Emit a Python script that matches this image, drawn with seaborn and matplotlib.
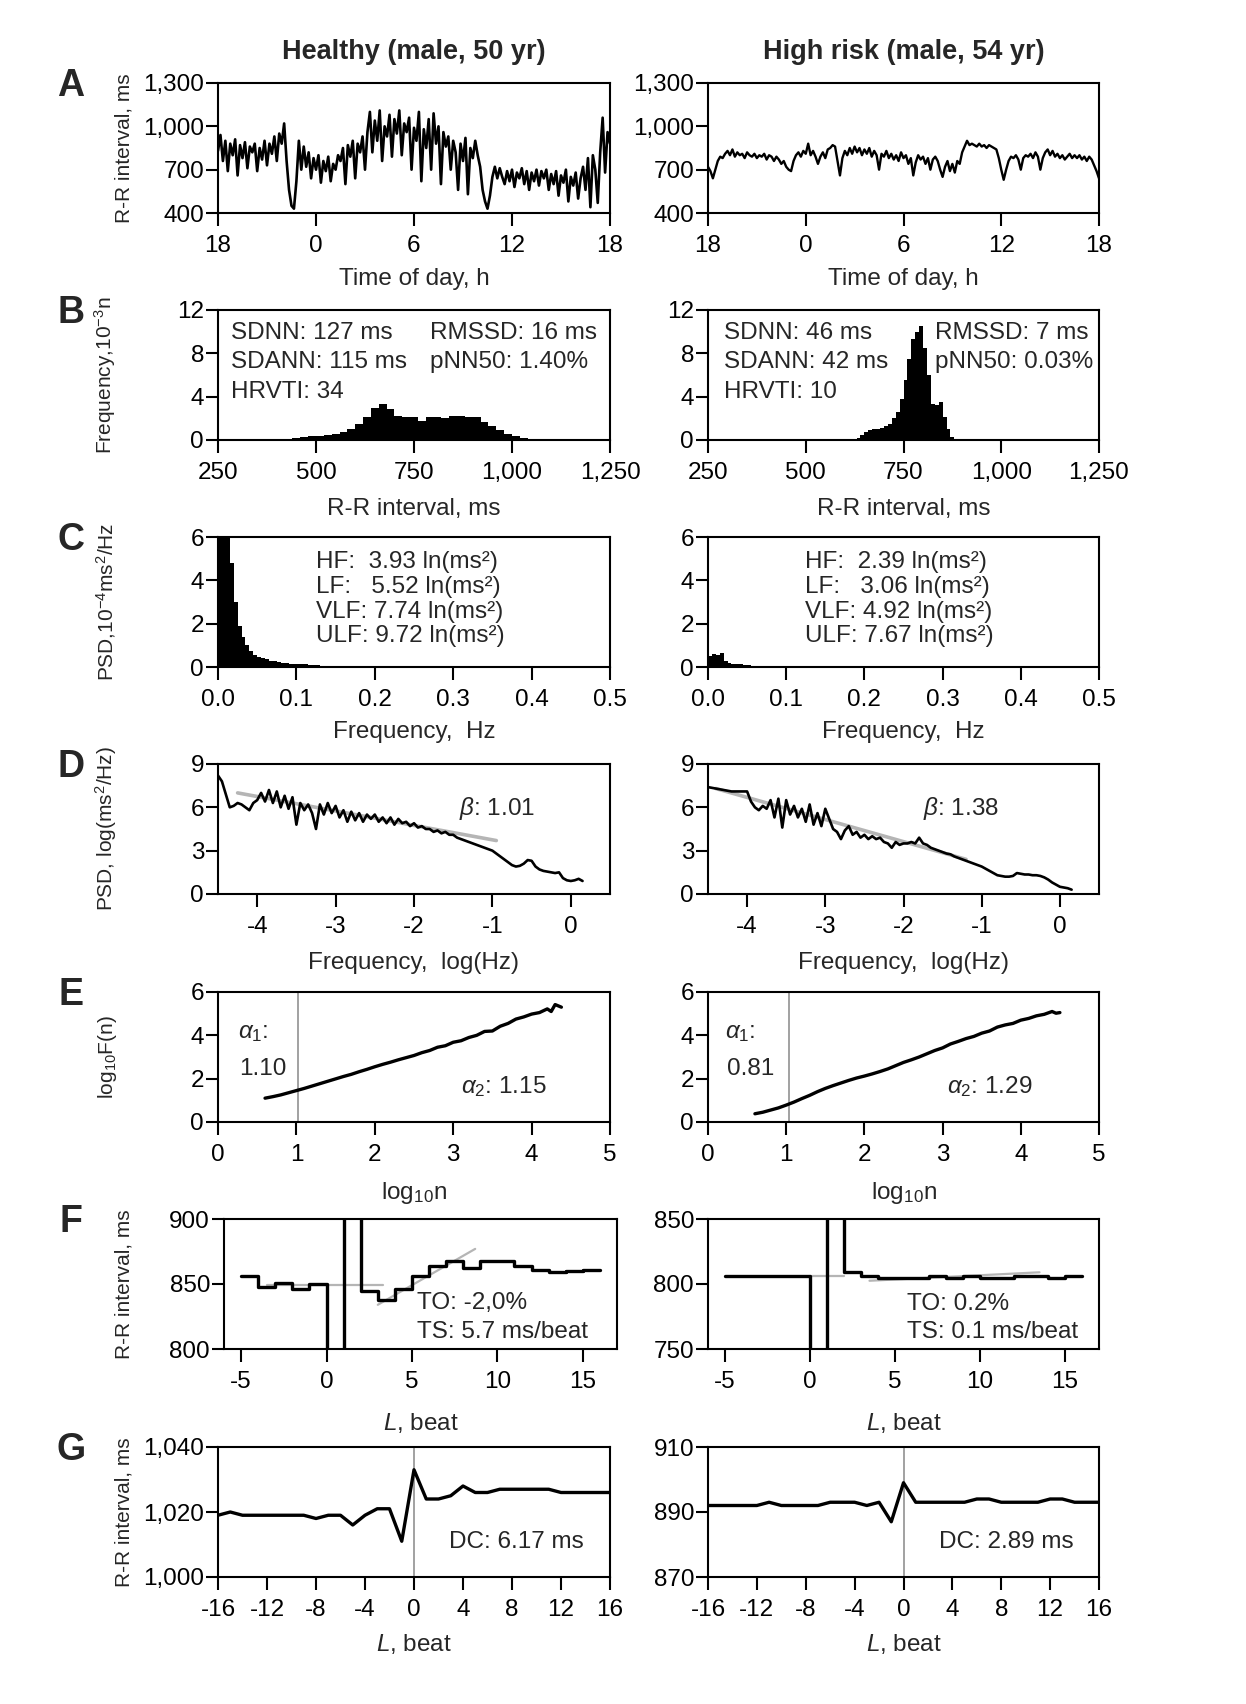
import numpy as np
import pandas as pd
import matplotlib
matplotlib.use("Agg")
import matplotlib.pyplot as plt
import seaborn as sns
from matplotlib.ticker import FuncFormatter

# ======================= DATA =======================
titles = ["Healthy (male, 50 yr)", "High risk (male, 54 yr)"]
row_letters = ["A", "B", "C", "D", "E", "F", "G"]

# A: 24-h R-R interval tachogram (ms), sampled every 0.15 h from 18:00
time_ticks = [0, 6, 12, 18, 24]
time_labels = ["18", "0", "6", "12", "18"]
rr_healthy = [830, 940, 760, 900, 690, 880, 800, 910, 660, 870, 780, 890, 710, 860, 820, 880, 690, 850, 770, 900,
              730, 880, 810, 930, 760, 950,
              880, 1020, 760, 560, 450, 430, 620, 900, 700, 860,
              720, 820, 640, 780, 700, 800, 610, 760, 690, 790, 620, 740, 700, 800,
              760, 850, 600, 870, 790, 900, 640, 880, 820, 930, 700,
              960, 1100, 820, 1040, 900, 1110, 760, 1000, 930, 1080, 790, 1050, 950, 1110, 800, 1020, 960,
              1060, 700, 990, 900, 1100, 620, 980, 850, 1050, 700, 1090, 880, 1000, 600, 960, 860,
              930, 700, 900, 820, 560, 880, 760, 920, 530, 850, 780, 900, 800,
              720, 560, 480, 430,
              520, 650, 720, 640, 710,
              650, 600, 690, 620, 700, 580, 680, 640, 710, 600, 690, 560, 680, 620, 700, 590, 690, 640, 700, 560,
              670, 600, 690, 520, 660, 610, 700, 480, 650, 590, 680, 500, 640,
              720, 560, 780, 440, 800, 700, 470,
              820, 1060, 680, 960, 880]
rr_risk = [720, 690, 640, 700, 760, 790, 780,
           810, 830, 800, 840, 790, 820, 800, 810, 780, 820, 800, 790, 810, 780, 800, 790, 810, 770, 800, 790,
           760, 790, 770, 740, 760, 720,
           700, 690, 760,
           800, 820, 790, 830, 810, 880, 800, 830, 790,
           740, 790, 820, 780, 840, 850,
           870, 860, 760, 660,
           780, 830, 800, 850, 810, 860, 820, 850, 800, 840, 810, 850, 790, 830, 800, 700,
           810, 790, 830, 780, 810, 770, 800, 760, 820, 780, 800, 740, 780, 660,
           750, 800, 770, 790, 740, 780, 700, 770, 790, 760, 700, 650,
           720, 760, 690, 740, 680, 760, 740,
           820, 860, 900, 870, 880,
           870, 860, 880, 860, 870, 850, 870, 860, 850, 840,
           780, 700, 630,
           700, 760, 790, 780, 800, 770, 700, 780, 800, 790, 810, 780, 820, 790,
           700, 780, 820, 840, 800, 830, 790, 810, 780, 800, 770, 790, 810, 780, 800,
           780, 800, 770, 790, 760, 790, 770, 730, 690, 640]

# B: R-R histograms (10^-3 n)
hist_h_centers = list(range(450, 1051, 20))
hist_h_counts = [0.2, 0.3, 0.35, 0.4, 0.5, 0.55, 0.7, 1.0, 1.5, 2.1, 3.0, 3.3, 2.9, 2.2, 2.1, 2.1, 1.8, 2.1, 2.1, 2.0,
                 2.2, 2.2, 2.1, 2.1, 1.7, 1.3, 0.9, 0.55, 0.35, 0.2, 0.08]
hist_r_centers = list(range(635, 886, 10))
hist_r_counts = [0.2, 0.5, 0.7, 0.9, 1.0, 1.0, 1.1, 1.3, 1.5, 2.0, 2.6, 3.8, 5.5, 7.5, 9.3, 10.0, 10.5, 8.5, 6.0,
                 3.3, 3.2, 3.5, 2.1, 1.0, 0.3, 0.05]
stats_h = [["SDNN: 127 ms", "SDANN: 115 ms", "HRVTI: 34"], ["RMSSD: 16 ms", "pNN50: 1.40%"]]
stats_r = [["SDNN: 46 ms", "SDANN: 42 ms", "HRVTI: 10"], ["RMSSD: 7 ms", "pNN50: 0.03%"]]

# C: power spectral density (10^-4 ms^2/Hz), 0.005 Hz bins
psd_bin = 0.005
psd_h = [9, 9, 6.5, 4.8, 3.0, 1.9, 1.4, 1.0, 0.75, 0.55, 0.45, 0.4, 0.35, 0.3, 0.27, 0.24, 0.2, 0.18, 0.16, 0.15,
         0.14, 0.13, 0.12, 0.11, 0.1, 0.08]
psd_r = [0.5, 0.6, 0.55, 0.65, 0.3, 0.2, 0.15, 0.14, 0.12, 0.1, 0.08]
bands_h = ["HF:  3.93 ln(ms²)", "LF:   5.52 ln(ms²)", "VLF: 7.74 ln(ms²)", "ULF: 9.72 ln(ms²)"]
bands_r = ["HF:  2.39 ln(ms²)", "LF:   3.06 ln(ms²)", "VLF: 4.92 ln(ms²)", "ULF: 7.67 ln(ms²)"]

# D: log-log PSD, log(Hz) from -4.5 every 0.05
logf_start, logf_step = -4.5, 0.05
lpsd_h = [8.2, 7.8, 6.9, 6.0, 6.1, 6.3, 6.2, 6.0, 5.8, 6.3, 6.5, 7.0, 6.4, 7.2, 6.3, 7.1, 6.0, 6.8, 5.9, 6.7,
          4.8, 6.3, 5.8, 6.2, 5.6, 4.5, 6.2, 5.5, 6.3, 5.6, 6.1, 5.3, 5.8, 5.0, 5.7, 5.1, 5.6, 5.0, 5.5, 5.2,
          5.5, 5.0, 5.3, 4.9, 5.3, 4.8, 5.2, 4.9, 5.0, 4.7, 4.9, 4.6, 4.7, 4.5, 4.5, 4.3, 4.4, 4.2, 4.3, 4.1,
          4.1, 3.9, 3.8, 3.7, 3.6, 3.5, 3.4, 3.3, 3.2, 3.1, 3.0, 2.8, 2.6, 2.4, 2.2, 2.0, 1.9, 1.95, 2.1, 2.35,
          2.3, 1.9, 1.7, 1.6, 1.55, 1.5, 1.45, 1.5, 1.1, 0.95, 0.9, 0.95, 1.05, 0.9]
lpsd_r = [7.4, 7.35, 7.3, 7.25, 7.2, 7.15, 7.1, 7.1, 7.1, 7.1, 7.1, 6.4, 6.0, 5.8, 6.1, 5.9, 6.5, 5.3, 6.6, 4.6,
          6.5, 5.5, 6.1, 5.3, 5.9, 5.0, 6.2, 4.8, 5.6, 4.7, 5.9, 5.2, 4.5, 4.3, 3.8, 4.4, 4.7, 4.1, 4.3, 3.9,
          4.1, 3.8, 4.0, 3.8, 3.9, 3.6, 3.5, 3.2, 3.6, 3.4, 3.5, 3.5, 3.6, 3.5, 3.9, 3.5, 3.4, 3.2, 3.1, 3.0,
          2.9, 2.8, 2.75, 2.6, 2.5, 2.4, 2.3, 2.2, 2.1, 2.0, 1.9, 1.75, 1.6, 1.45, 1.3, 1.25, 1.2, 1.2, 1.25, 1.45,
          1.4, 1.35, 1.35, 1.3, 1.3, 1.25, 1.15, 1.0, 0.8, 0.65, 0.5, 0.45, 0.4, 0.3]
fit_h_x, fit_h_y = [-4.25, -0.95], [7.0, 3.7]
fit_r_x, fit_r_y = [-4.4, -1.2], [7.3, 2.4]
beta_h, beta_r = "1.01", "1.38"

# E: DFA log10 F(n) vs log10 n
dfa_h_x = [0.6, 0.7, 0.8, 0.9, 1.0, 1.1, 1.2, 1.3, 1.4, 1.5, 1.6, 1.7, 1.8, 1.9, 2.0, 2.1, 2.2, 2.3, 2.4, 2.5,
           2.6, 2.7, 2.8, 2.9, 3.0, 3.1, 3.2, 3.3, 3.4, 3.5, 3.6, 3.7, 3.8, 3.9, 4.0, 4.1, 4.2, 4.25, 4.3, 4.38]
dfa_h_y = [1.1, 1.17, 1.25, 1.35, 1.45, 1.55, 1.66, 1.77, 1.88, 1.99, 2.1, 2.2, 2.32, 2.43, 2.55, 2.66, 2.76, 2.87,
           2.97, 3.07, 3.2, 3.3, 3.45, 3.52, 3.68, 3.75, 3.9, 4.0, 4.18, 4.2, 4.42, 4.55, 4.75, 4.85, 4.98, 5.05,
           5.22, 5.1, 5.42, 5.3]
dfa_r_x = [0.6, 0.7, 0.8, 0.9, 1.0, 1.1, 1.2, 1.3, 1.4, 1.5, 1.6, 1.7, 1.8, 1.9, 2.0, 2.1, 2.2, 2.3, 2.4, 2.5,
           2.6, 2.7, 2.8, 2.9, 3.0, 3.1, 3.2, 3.3, 3.4, 3.5, 3.6, 3.7, 3.8, 3.9, 4.0, 4.1, 4.2, 4.3, 4.4, 4.45, 4.5]
dfa_r_y = [0.38, 0.45, 0.55, 0.65, 0.78, 0.92, 1.08, 1.23, 1.4, 1.55, 1.68, 1.8, 1.92, 2.03, 2.12, 2.22, 2.33, 2.45,
           2.6, 2.75, 2.87, 3.0, 3.15, 3.3, 3.42, 3.6, 3.72, 3.85, 3.95, 4.1, 4.2, 4.38, 4.48, 4.55, 4.7, 4.78, 4.9,
           4.97, 5.1, 5.02, 5.05]
alpha_split = [1.02, 1.04]
alpha1 = ["1.10", "0.81"]
alpha2 = ["1.15", "1.29"]

# F: heart rate turbulence
hrt_beats = list(range(-5, 17))
hrt_h = [856, 848, 851, 846, 850, 600, 1100, 845, 838, 846, 856, 864, 868, 862, 868, 868, 864, 861, 859, 860, 861, 861]
hrt_r = [806, 806, 806, 806, 806, 600, 1000, 809, 806, 805, 805, 805, 806, 805, 806, 805, 805, 806, 806, 805, 806, 806]
to_h_x, to_h_y = [-3.5, 3.3], [849, 849]
ts_h_x, ts_h_y = [3.0, 8.7], [834, 877]
to_r_x, to_r_y = [0.0, 2.0], [806, 806]
ts_r_x, ts_r_y = [3.5, 13.5], [802.5, 809]
hrt_text_h = ["TO: -2,0%", "TS: 5.7 ms/beat"]
hrt_text_r = ["TO: 0.2%", "TS: 0.1 ms/beat"]

# G: deceleration capacity (PRSA)
prsa_beats = list(range(-16, 17))
prsa_h = [1019, 1020, 1019, 1019, 1019, 1019, 1019, 1019, 1018, 1019, 1019, 1016, 1019, 1021, 1021, 1011, 1033,
          1024, 1024, 1025, 1028, 1026, 1026, 1027, 1027, 1027, 1027, 1027, 1026, 1026, 1026, 1026, 1026]
prsa_r = [892, 892, 892, 892, 892, 893, 892, 892, 892, 892, 893, 893, 893, 892, 893, 887, 899,
          893, 893, 893, 893, 893, 894, 894, 893, 893, 893, 893, 894, 894, 893, 893, 893]
dc_h, dc_r = "DC: 6.17 ms", "DC: 2.89 ms"

# ======================= STYLE =======================
sns.set_theme(style="ticks")
plt.rcParams["font.family"] = ["Liberation Sans", "DejaVu Sans"]
plt.rcParams["mathtext.fontset"] = "custom"
plt.rcParams["mathtext.rm"] = "Liberation Sans"
plt.rcParams["mathtext.it"] = "Liberation Sans:italic"
plt.rcParams["mathtext.bf"] = "Liberation Sans:bold"
plt.rcParams["axes.unicode_minus"] = False

TICK_FS = 17.5
XL_FS = 17.5
YL_FS = 15
ANN_FS = 17.5
TITLE_FS = 19.5
LETTER_FS = 27
GRAY = "#b5b5b5"
VGRAY = "#9a9a9a"

W, H = 1246, 1704
fig = plt.figure(figsize=(W / 100, H / 100), dpi=100)
fig.patch.set_facecolor("white")

ROW_TOPS = [83, 310, 537, 764, 992, 1219, 1447]
AX_H = 130
LEFT = [(218, 392)] * 5 + [(224, 393), (218, 392)]
RIGHT = [(708, 391)] * 7
XL_SHIFT = -0.035


def make_ax(x0, w, top):
    return fig.add_axes([x0 / W, 1 - (top + AX_H) / H, w / W, AX_H / H])


def style(ax, xlim, ylim, xticks, yticks, xfmt=None, yfmt=None, xlabels=None):
    ax.set_xlim(*xlim)
    ax.set_ylim(*ylim)
    ax.set_xticks(xticks)
    if xlabels is not None:
        ax.set_xticklabels(xlabels)
    elif xfmt is not None:
        ax.xaxis.set_major_formatter(FuncFormatter(xfmt))
    ax.set_yticks(yticks)
    if yfmt is not None:
        ax.yaxis.set_major_formatter(FuncFormatter(yfmt))
    for s in ax.spines.values():
        s.set_visible(True)
        s.set_linewidth(1.5)
        s.set_color("black")
    ax.tick_params(axis="both", which="major", direction="out", length=9, width=1.5,
                   color="black", labelcolor="black", labelsize=TICK_FS)
    ax.tick_params(axis="x", pad=7)
    ax.tick_params(axis="y", pad=1)
    ax.grid(False)
    ax.set_facecolor("white")


def labels(ax, xlabel, xl_y, ylabel=None, yl_right_px=None, x0=None, w=None):
    ax.set_xlabel(xlabel, fontsize=XL_FS)
    ax.xaxis.set_label_coords(0.5, xl_y + XL_SHIFT)
    if ylabel:
        ax.set_ylabel(ylabel, fontsize=YL_FS)
        ax.yaxis.set_label_coords((yl_right_px - x0) / w, 0.5)
    else:
        ax.set_ylabel("")


def filled_hist(ax, centers, heights):
    cen = np.asarray(centers, dtype=float)
    bw = float(cen[1] - cen[0])
    edges = [float(e) for e in np.append(cen - bw / 2, cen[-1] + bw / 2)]
    df = pd.DataFrame({"x": cen, "w": np.asarray(heights, dtype=float)})
    sns.histplot(data=df, x="x", weights="w", bins=edges, element="step", fill=True,
                 color="black", alpha=1, linewidth=0, ax=ax)


comma = lambda v, p: f"{v:,.0f}"
one_dec = lambda v, p: f"{v:.1f}"
integer = lambda v, p: f"{v:.0f}"

axes = {}
for r in range(7):
    for c, cols in enumerate([LEFT, RIGHT]):
        x0, w = cols[r]
        axes[(r, c)] = (make_ax(x0, w, ROW_TOPS[r]), x0, w)

# ---- A ----
for c, vals in enumerate([rr_healthy, rr_risk]):
    ax, x0, w = axes[(0, c)]
    t = np.linspace(0, 24, len(vals))
    sns.lineplot(x=t, y=vals, ax=ax, color="black", lw=1.9 if c == 0 else 1.7, estimator=None, sort=False)
    style(ax, (0, 24), (400, 1300), time_ticks, [400, 700, 1000, 1300], yfmt=comma, xlabels=time_labels)
    labels(ax, "Time of day, h", -0.39, "R-R interval, ms" if c == 0 else None, 134, x0, w)

# ---- B ----
for c, (cen, cnt, st) in enumerate([(hist_h_centers, hist_h_counts, stats_h),
                                    (hist_r_centers, hist_r_counts, stats_r)]):
    ax, x0, w = axes[(1, c)]
    filled_hist(ax, cen, cnt)
    style(ax, (250, 1250), (0, 12), [250, 500, 750, 1000, 1250], [0, 4, 8, 12], xfmt=comma)
    labels(ax, "R-R interval, ms", -0.415, "Frequency,10$^{-3}$n" if c == 0 else None, 118, x0, w)
    lx, rx = (0.033, 0.54) if c == 0 else (0.04, 0.58)
    for yy, s in zip([0.823, 0.6, 0.37], st[0]):
        ax.text(lx, yy, s, transform=ax.transAxes, fontsize=ANN_FS, va="center", ha="left")
    for yy, s in zip([0.823, 0.6], st[1]):
        ax.text(rx, yy, s, transform=ax.transAxes, fontsize=ANN_FS, va="center", ha="left")

# ---- C ----
for c, (vals, bands) in enumerate([(psd_h, bands_h), (psd_r, bands_r)]):
    ax, x0, w = axes[(2, c)]
    cen = psd_bin / 2 + psd_bin * np.arange(len(vals))
    filled_hist(ax, cen, vals)
    style(ax, (0, 0.5), (0, 6), [0, 0.1, 0.2, 0.3, 0.4, 0.5], [0, 2, 4, 6], xfmt=one_dec)
    labels(ax, "Frequency,  Hz", -0.377, "PSD,10$^{-4}$ms$^{2}$/Hz" if c == 0 else None, 118, x0, w)
    tx = 0.25 if c == 0 else 0.247
    for yy, s in zip([0.81, 0.615, 0.42, 0.235], bands):
        ax.text(tx, yy, s, transform=ax.transAxes, fontsize=ANN_FS, va="center", ha="left")

# ---- D ----
for c, (vals, fx, fy, beta) in enumerate([(lpsd_h, fit_h_x, fit_h_y, beta_h), (lpsd_r, fit_r_x, fit_r_y, beta_r)]):
    ax, x0, w = axes[(3, c)]
    lf = logf_start + logf_step * np.arange(len(vals))
    sns.lineplot(x=fx, y=fy, ax=ax, color=GRAY, lw=2.6, estimator=None, sort=False)
    sns.lineplot(x=lf, y=vals, ax=ax, color="black", lw=1.9, estimator=None, sort=False)
    style(ax, (-4.5, 0.5), (0, 9), [-4, -3, -2, -1, 0], [0, 3, 6, 9], xfmt=integer)
    labels(ax, "Frequency,  log(Hz)", -0.415, "PSD, log(ms$^2$/Hz)" if c == 0 else None, 119, x0, w)
    ax.text(0.615 if c == 0 else 0.55, 0.66, r"$\beta$: " + beta, transform=ax.transAxes,
            fontsize=ANN_FS, va="center", ha="left")

# ---- E ----
for c, (xs, ys) in enumerate([(dfa_h_x, dfa_h_y), (dfa_r_x, dfa_r_y)]):
    ax, x0, w = axes[(4, c)]
    ax.axvline(alpha_split[c], color=VGRAY, lw=1.3)
    sns.lineplot(x=xs, y=ys, ax=ax, color="black", lw=2.4, estimator=None, sort=False)
    style(ax, (0, 5), (0, 6), [0, 1, 2, 3, 4, 5], [0, 2, 4, 6], xfmt=integer)
    labels(ax, "log$_{10}$n", -0.415, "log$_{10}$F(n)" if c == 0 else None, 119, x0, w)
    lx = 0.05 if c == 0 else 0.043
    ax.text(lx, 0.685, r"$\alpha_1$:", transform=ax.transAxes, fontsize=ANN_FS, va="center", ha="left")
    ax.text(lx + 0.005, 0.41, alpha1[c], transform=ax.transAxes, fontsize=ANN_FS, va="center", ha="left")
    ax.text(0.62 if c == 0 else 0.61, 0.27, r"$\alpha_2$: " + alpha2[c], transform=ax.transAxes,
            fontsize=ANN_FS, va="center", ha="left")

# ---- F ----
for c, (vals, tox, toy, tsx, tsy, txt, ylim) in enumerate([
        (hrt_h, to_h_x, to_h_y, ts_h_x, ts_h_y, hrt_text_h, (800, 900)),
        (hrt_r, to_r_x, to_r_y, ts_r_x, ts_r_y, hrt_text_r, (750, 850))]):
    ax, x0, w = axes[(5, c)]
    sns.lineplot(x=tox, y=toy, ax=ax, color=GRAY, lw=1.6, estimator=None, sort=False)
    sns.lineplot(x=tsx, y=tsy, ax=ax, color=GRAY, lw=1.6, estimator=None, sort=False)
    sns.lineplot(x=hrt_beats, y=vals, ax=ax, color="black", lw=2.4, estimator=None, sort=False,
                 drawstyle="steps-post")
    lo, hi = ylim
    style(ax, (-6, 17), ylim, [-5, 0, 5, 10, 15], [lo, (lo + hi) // 2, hi], xfmt=integer)
    labels(ax, "$L$, beat", -0.44, "R-R interval, ms" if c == 0 else None, 134, x0, w)
    tx = 0.49 if c == 0 else 0.51
    ax.text(tx, 0.35, txt[0], transform=ax.transAxes, fontsize=ANN_FS, va="center", ha="left")
    ax.text(tx, 0.13, txt[1], transform=ax.transAxes, fontsize=ANN_FS, va="center", ha="left")

# ---- G ----
for c, (vals, dc, ylim, yt) in enumerate([(prsa_h, dc_h, (1000, 1040), [1000, 1020, 1040]),
                                          (prsa_r, dc_r, (870, 910), [870, 890, 910])]):
    ax, x0, w = axes[(6, c)]
    ax.axvline(0, color=VGRAY, lw=1.3)
    sns.lineplot(x=prsa_beats, y=vals, ax=ax, color="black", lw=2.4, estimator=None, sort=False)
    style(ax, (-16, 16), ylim, list(range(-16, 17, 4)), yt, xfmt=integer, yfmt=comma)
    labels(ax, "$L$, beat", -0.385, "R-R interval, ms" if c == 0 else None, 134, x0, w)
    ax.text(0.59, 0.27, dc, transform=ax.transAxes, fontsize=ANN_FS, va="center", ha="left")

# ---- titles & letters ----
fig.text(414 / W, 1 - 52 / H, titles[0], fontsize=TITLE_FS, fontweight="bold", ha="center", va="center")
fig.text(904 / W, 1 - 52 / H, titles[1], fontsize=TITLE_FS, fontweight="bold", ha="center", va="center")
for r, letter in enumerate(row_letters):
    fig.text(71 / W, 1 - (ROW_TOPS[r] + 3) / H, letter, fontsize=LETTER_FS, fontweight="bold",
             ha="center", va="center")

fig.savefig("out.png", dpi=100, facecolor="white")
